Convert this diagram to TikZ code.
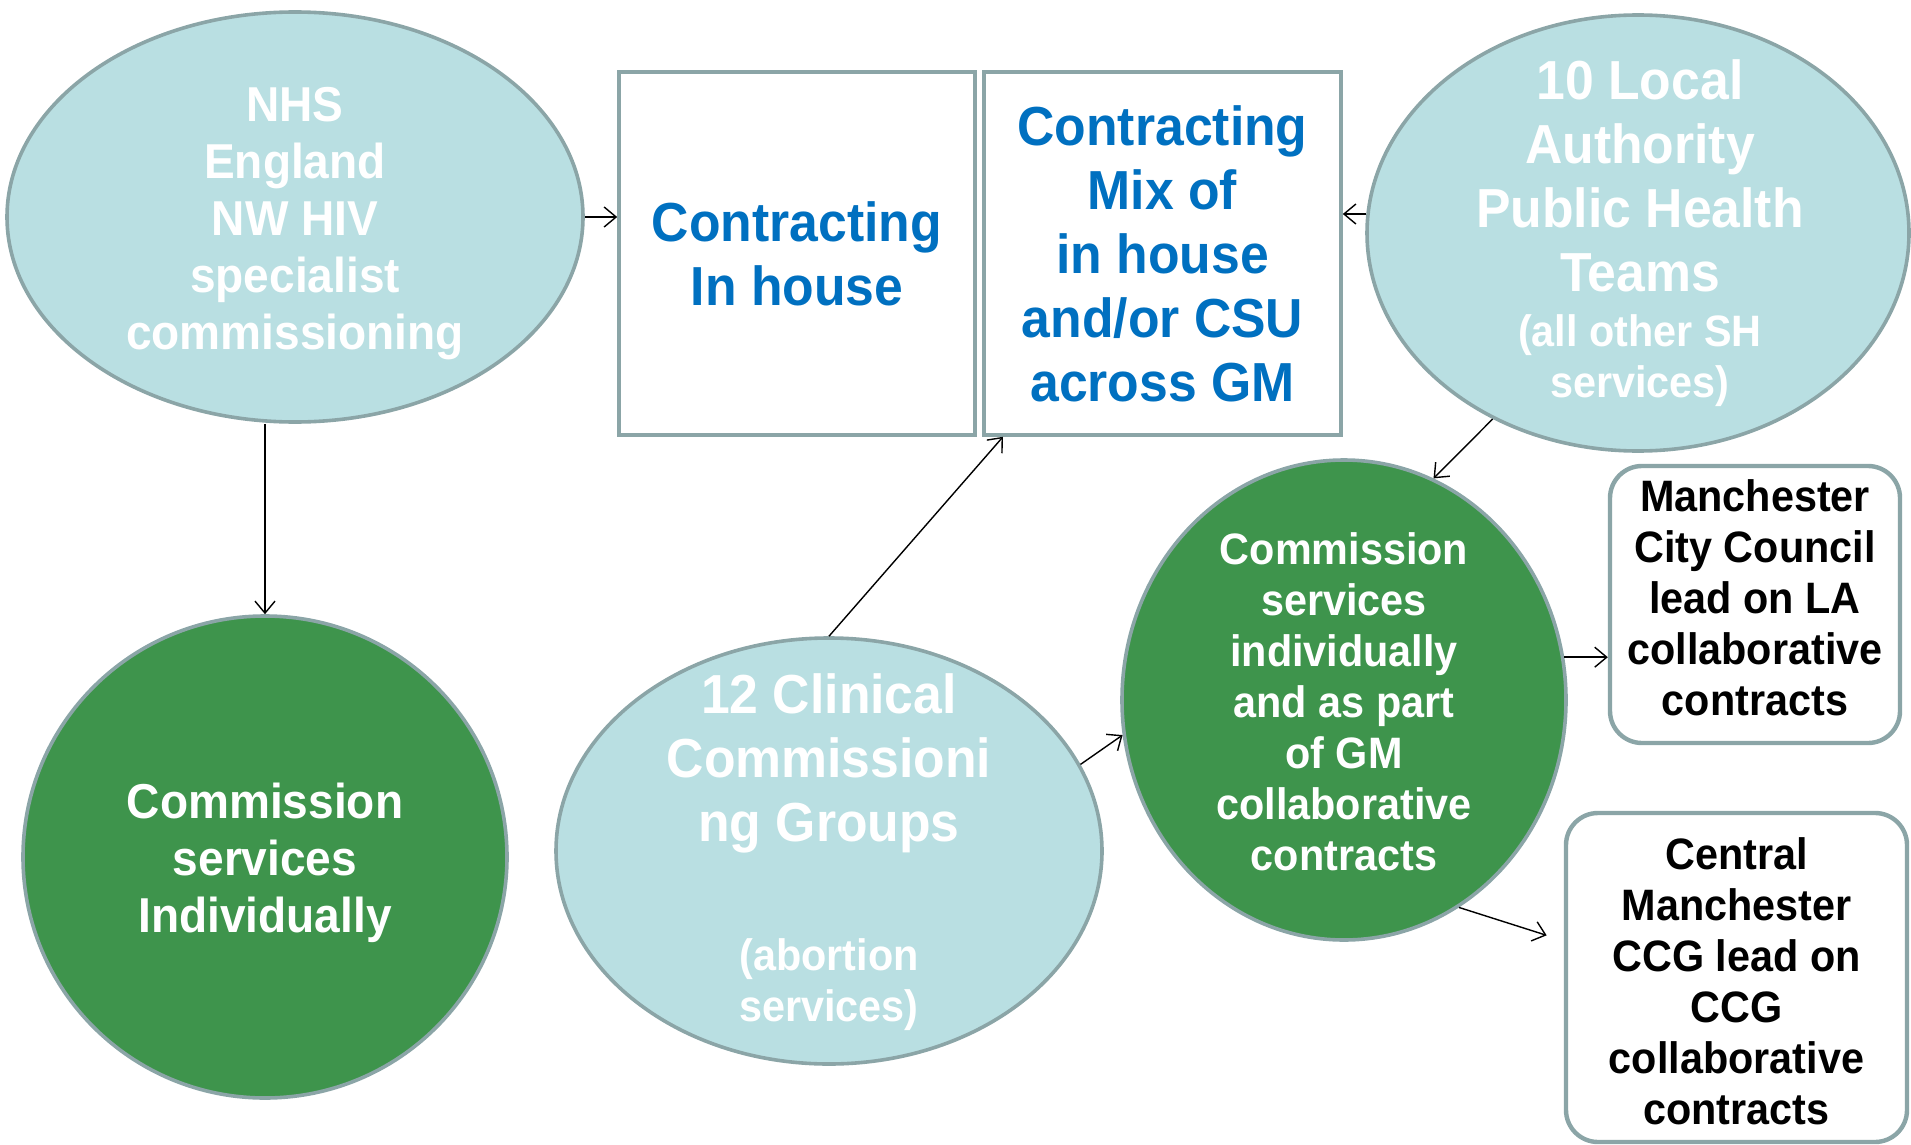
\documentclass[tikz,border=0pt]{standalone}
\usepackage{fontspec}
\setmainfont{Liberation Sans}[FakeStretch=0.94]
\usetikzlibrary{shapes.geometric,arrows.meta}
\definecolor{paleteal}{RGB}{185,223,226}
\definecolor{leafgreen}{RGB}{62,148,76}
\definecolor{edgegrey}{RGB}{139,165,167}
\definecolor{inkblue}{RGB}{0,112,192}
\newcommand{\fsA}{\fontsize{24.5}{28.5}\selectfont}
\newcommand{\fsB}{\fontsize{27.5}{32}\selectfont}
\newcommand{\fsC}{\fontsize{22}{25.5}\selectfont}
\newcommand{\boxlines}[2]{\raisebox{#1}[\height][\depth]{\begin{tabular}{@{}c@{}}#2\end{tabular}}}

\begin{document}
\begin{tikzpicture}[x=0.5pt,y=-0.5pt,
  oval/.style={ellipse,draw=edgegrey,line width=1.8pt,inner sep=0pt},
  pale/.style={oval,fill=paleteal},
  leaf/.style={oval,fill=leafgreen},
  plainbox/.style={rectangle,draw=edgegrey,line width=1.8pt,fill=white,inner sep=0pt},
  roundbox/.style={plainbox,rounded corners=16pt,line width=2.2pt,font=\fsC\bfseries},
  wtext/.style={text=white,align=center},
  link/.style={->,line width=0.7pt},
  >={Straight Barb[length=6pt,width=10pt]}]
\useasboundingbox (0,0) rectangle (1911,1145);
\node[pale,minimum width=288pt,minimum height=205pt] (nhs) at (295,217) {};
\node[wtext,font=\fsA\bfseries] (nhs-t) at (295,224) {NHS\\England\\NW HIV\\specialist\\commissioning};
\node[plainbox,minimum width=178pt,minimum height=181.5pt] (inhouse) at (797,253.5)
  {\fsB\bfseries\color{inkblue}\boxlines{-3.5pt}{Contracting\\In house}};
\node[plainbox,minimum width=178.5pt,minimum height=181.5pt] (mix) at (1162.5,253.5)
  {\fsB\bfseries\color{inkblue}\boxlines{-3.5pt}{Contracting\\Mix of\\in house\\and/or CSU\\across GM}};
\node[pale,minimum width=271pt,minimum height=218pt] (la) at (1638,233) {};
\node[wtext,font=\fsB\bfseries] (la-t) at (1640,176) {10 Local\\Authority\\Public Health\\Teams};
\node[wtext,font=\fsC\bfseries] (la-n) at (1640,361) {(all other SH\\services)};
\node[leaf,minimum width=242pt,minimum height=241pt] (indiv) at (265,857) {};
\node[wtext,font=\fsA\bfseries] (indiv-t) at (265,863) {Commission\\services\\Individually};
\node[pale,minimum width=273pt,minimum height=213pt] (ccg) at (829,851) {};
\node[wtext,font=\fsB\bfseries] (ccg-t) at (829,763) {12 Clinical\\Commissioni\\ng Groups};
\node[wtext,font=\fsC\bfseries] (ccg-n) at (829,985) {(abortion\\services)};
\node[leaf,minimum width=222pt,minimum height=240pt] (gm) at (1344,700) {};
\node[wtext,font=\fsC\bfseries] (gm-t) at (1344,702) {Commission\\services\\individually\\and as part\\of GM\\collaborative\\contracts};
\node[roundbox,minimum width=145pt,minimum height=138.5pt] (mcc) at (1755,604.5)
  {\boxlines{0.5pt}{Manchester\\City Council\\lead on LA\\collaborative\\contracts}};
\node[roundbox,minimum width=170.5pt,minimum height=164.5pt] (cmc) at (1736.5,977.5)
  {\boxlines{-4.5pt}{Central\\Manchester\\CCG lead on\\CCG\\collaborative\\contracts}};
\draw[link] (nhs.east) -- (nhs.east -| inhouse.west);
\draw[link] (indiv.north |- nhs.south) -- (indiv.north);
\draw[link] (ccg.north) -- (mix);
\draw[link] (la.176) -- (la.176 -| mix.east);
\draw[link] (la.232) -- (gm.68);
\draw[link] (ccg.19) -- (gm.189);
\draw[link] (gm.11) -- (gm.11 -| mcc.west);
\draw[link,shorten >=9pt] (gm.299) -- (cmc.168);
\end{tikzpicture}
\end{document}
